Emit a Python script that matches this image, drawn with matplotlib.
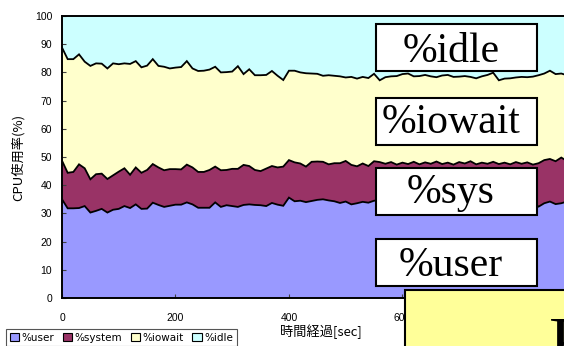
import numpy as np
import matplotlib
matplotlib.use("Agg")
import matplotlib.pyplot as plt
from matplotlib.patches import Rectangle, Patch

# sampling time [sec]
elapsed = np.arange(0, 920, 10)

user = [35.0, 31.8, 31.8, 31.9, 32.6, 30.3, 30.9, 31.6, 30.3, 31.3,
        31.6, 32.6, 31.9, 33.2, 31.6, 31.7, 33.8, 33.0, 32.3, 32.7,
        33.1, 33.1, 33.9, 33.2, 32.0, 32.0, 32.0, 33.9, 32.3, 32.9,
        32.6, 32.3, 33.0, 33.2, 33.0, 32.9, 32.6, 33.7, 33.1, 32.7,
        35.6, 34.3, 34.5, 34.0, 34.4, 34.8, 35.0, 34.6, 34.3, 33.7,
        34.2, 33.2, 33.6, 34.1, 33.8, 34.5, 34.6, 34.0, 34.4, 33.9,
        34.2, 34.6, 34.0, 34.3, 33.8, 34.5, 34.1, 33.7, 34.2, 34.6,
        34.0, 33.8, 34.3, 34.5, 33.9, 34.2, 34.0, 34.4, 33.7, 34.1,
        34.5, 33.9, 34.2, 33.8, 32.4, 33.6, 34.2, 33.3, 33.6, 34.2,
        33.8, 34.1]

system = [13.7, 12.6, 12.9, 15.5, 13.4, 11.8, 13.0, 12.5, 11.9, 12.2,
          13.2, 13.4, 11.8, 13.1, 12.8, 13.7, 13.7, 13.3, 13.0, 13.0,
          12.6, 12.5, 13.4, 13.1, 12.7, 12.7, 13.4, 12.7, 13.0, 12.5,
          13.2, 13.5, 14.2, 13.6, 12.4, 12.1, 13.3, 13.1, 13.2, 13.9,
          13.3, 13.8, 13.2, 12.6, 13.9, 13.6, 13.3, 12.8, 13.5, 14.1,
          14.4, 14.0, 13.1, 13.6, 13.0, 14.0, 13.6, 13.6, 13.8, 13.4,
          13.8, 12.9, 14.3, 13.1, 14.3, 13.1, 14.3, 13.8, 13.8, 12.7,
          14.2, 13.9, 14.2, 12.9, 14.1, 13.4, 14.3, 13.1, 14.3, 13.3,
          13.7, 13.7, 13.9, 13.5, 15.4, 15.3, 15.1, 15.2, 16.2, 14.4,
          15.4, 14.6]

iowait = [40.1, 40.3, 40.0, 39.0, 37.8, 40.2, 39.3, 39.0, 39.2, 39.7,
          38.1, 37.2, 39.3, 37.7, 37.4, 37.0, 37.2, 36.0, 36.7, 35.7,
          36.0, 36.3, 36.7, 35.1, 35.8, 35.9, 35.6, 35.4, 34.7, 34.7,
          34.5, 36.4, 32.2, 34.3, 33.6, 34.0, 33.2, 33.7, 32.5, 30.7,
          31.7, 32.5, 32.3, 33.1, 31.3, 31.1, 30.5, 31.6, 31.0, 30.8,
          29.6, 31.2, 31.1, 30.7, 31.2, 31.0, 29.0, 30.7, 30.4, 31.4,
          31.4, 32.1, 30.3, 31.3, 31.0, 31.0, 29.9, 31.4, 31.1, 31.1,
          30.3, 31.0, 29.9, 30.5, 30.6, 31.5, 31.6, 29.7, 29.8, 30.5,
          30.0, 30.8, 30.2, 31.2, 31.2, 30.7, 31.3, 30.9, 29.8, 30.4,
          30.2, 30.5]

idle = [11.2, 15.3, 15.3, 13.6, 16.2, 17.7, 16.8, 16.9, 18.6, 16.8,
        17.1, 16.8, 17.0, 16.0, 18.2, 17.6, 15.3, 17.7, 18.0, 18.6,
        18.3, 18.1, 16.0, 18.6, 19.5, 19.4, 19.0, 18.0, 20.0, 19.9,
        19.7, 17.8, 20.6, 18.9, 21.0, 21.0, 20.9, 19.5, 21.2, 22.7,
        19.4, 19.4, 20.0, 20.3, 20.4, 20.5, 21.2, 21.0, 21.2, 21.4,
        21.8, 21.6, 22.2, 21.6, 22.0, 20.5, 22.8, 21.7, 21.4, 21.3,
        20.6, 20.4, 21.4, 21.3, 20.9, 21.4, 21.7, 21.1, 20.9, 21.6,
        21.5, 21.3, 21.6, 22.1, 21.4, 20.9, 20.1, 22.8, 22.2, 22.1,
        21.8, 21.6, 21.7, 21.5, 21.0, 20.4, 19.4, 20.6, 20.4, 21.0,
        20.6, 20.8]

series_names = ["%user", "%system", "%iowait", "%idle"]
series_colors = ["#9999FF", "#993366", "#FFFFCC", "#CCFFFF"]
x_ticks = [0, 200, 400, 600, 800]
y_ticks = list(range(0, 101, 10))
callouts = ["%idle", "%iowait", "%sys", "%user"]

W, H = 564, 346
fig = plt.figure(figsize=(W / 100, H / 100), dpi=100)


def fx(px):
    return px / W


def fy(py):
    return 1 - py / H


ax = fig.add_axes([fx(62), fy(298), fx(580) - fx(62), fy(16) - fy(298)])
ax.stackplot(elapsed, user, system, iowait, idle,
             colors=series_colors, linewidth=0)
bounds = np.cumsum([user, system, iowait], axis=0)
for b in bounds:
    ax.plot(elapsed, b, color="black", lw=1.3, solid_joinstyle="miter")

ax.set_xlim(0, 913)
ax.set_ylim(0, 100)
ax.set_xticks(x_ticks)
ax.set_yticks(y_ticks)
for s in ax.spines.values():
    s.set_linewidth(1.4)
    s.set_color("black")
ax.tick_params(axis="both", direction="in", length=3, width=0.8,
               color="#404040", labelsize=7.5, labelcolor="black")
ax.tick_params(axis="y", pad=7)
ax.tick_params(axis="x", pad=11)
for lab in ax.get_xticklabels() + ax.get_yticklabels():
    lab.set_fontfamily("Liberation Sans")

jp = ["Noto Sans CJK JP", "DejaVu Sans"]
fig.text(fx(18), fy(157), "CPU使用率(%)", rotation=90, ha="center",
         va="center", fontsize=9.5, family=jp)
fig.text(fx(321), fy(332), "時間経過[sec]", ha="center", va="center",
         fontsize=9.5, family=jp)

handles = [Patch(facecolor=c, edgecolor="black", lw=0.8) for c in series_colors]
leg = fig.legend(handles, series_names, ncol=4, loc="upper left",
                 bbox_to_anchor=(fx(6), fy(329)), frameon=True,
                 fancybox=False, edgecolor="#555555", framealpha=1,
                 fontsize=7.5, handlelength=0.9, handleheight=0.9,
                 handletextpad=0.25, columnspacing=0.8, borderpad=0.35,
                 borderaxespad=0)
leg.get_frame().set_linewidth(0.8)
for t in leg.get_texts():
    t.set_fontfamily("DejaVu Sans")

# labelled callout boxes over the chart
box_tops = [24, 98, 168, 239]
box_baselines = [62, 133, 203, 276]
for label, top, base in zip(callouts, box_tops, box_baselines):
    fig.add_artist(Rectangle((fx(376), fy(top + 47)), fx(537) - fx(376),
                             fy(top) - fy(top + 47),
                             transform=fig.transFigure, facecolor="white",
                             edgecolor="black", lw=1.5, zorder=5))
    fig.text(fx(451), fy(base), label, ha="center", va="baseline",
             fontsize=30, family="Liberation Serif", zorder=6)

# yellow note box at the lower right
fig.add_artist(Rectangle((fx(405), fy(370)), fx(640) - fx(405),
                         fy(290) - fy(370), transform=fig.transFigure,
                         facecolor="#FFFF99", edgecolor="black", lw=1.5,
                         zorder=5))
fig.text(fx(549), fy(366), "F", ha="left", va="baseline", fontsize=52,
         family="Liberation Serif", zorder=6)

fig.savefig("out.png", dpi=100)
